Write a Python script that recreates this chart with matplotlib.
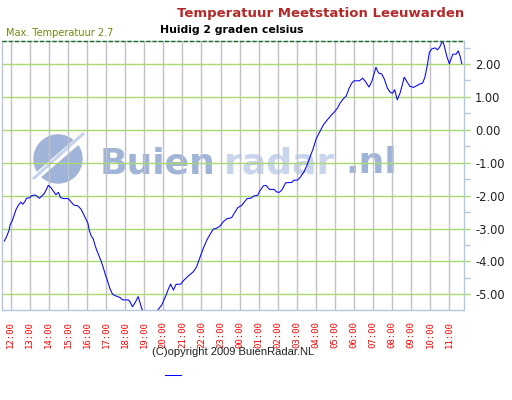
import matplotlib
matplotlib.use("Agg")
import matplotlib.pyplot as plt
from matplotlib.lines import Line2D
from matplotlib.patches import Ellipse
from matplotlib.ticker import MultipleLocator

# temperature Leeuwarden, minutes after 12:00
minutes = [-20, -13, -5, -2, 5, 11, 17, 24, 32, 38, 44, 50, 59, 66, 76, 82, 90, 98,
           106, 113, 118, 126, 134, 142, 150, 157, 166, 181, 190, 199, 211, 221, 228,
           237, 243, 247, 253, 260, 265, 271, 277, 284, 291, 298, 304, 312, 320, 328,
           337, 344, 352, 370, 375, 383, 391, 401, 407, 412, 425, 440, 455, 464, 475,
           482, 491, 496, 503, 512, 520, 535, 543, 559, 575, 585, 596, 606, 617, 627,
           637, 648, 659, 669, 681, 695, 703, 714, 727, 744, 755, 765, 777, 784, 795,
           803, 814, 828, 837, 845, 853, 865, 884, 891, 902, 912, 923, 933, 942, 952,
           961, 973, 983, 994, 1007, 1017, 1028, 1036, 1046, 1055, 1065, 1073, 1080,
           1097, 1107, 1116, 1127, 1136, 1143, 1149, 1157, 1167, 1175, 1185, 1193,
           1201, 1208, 1216, 1225, 1232, 1238, 1246, 1256, 1267, 1277, 1286, 1296,
           1303, 1311, 1317, 1325, 1335, 1343, 1351, 1358, 1363, 1372, 1380, 1391,
           1401, 1408, 1414, 1419]
temps = [-3.38, -3.25, -3.05, -2.89, -2.76, -2.59, -2.42, -2.29, -2.20, -2.26, -2.19,
         -2.08, -2.07, -2.00, -1.98, -2.01, -2.08, -2.01, -1.93, -1.80, -1.69, -1.75,
         -1.86, -1.97, -1.90, -2.06, -2.09, -2.09, -2.19, -2.29, -2.31, -2.41, -2.54,
         -2.72, -2.84, -3.05, -3.22, -3.32, -3.50, -3.67, -3.81, -3.98, -4.18, -4.41,
         -4.57, -4.82, -4.99, -5.04, -5.07, -5.10, -5.17, -5.17, -5.22, -5.38, -5.26,
         -5.07, -5.26, -5.43, -5.65, -5.70, -5.58, -5.46, -5.33, -5.17, -4.97, -4.84,
         -4.69, -4.87, -4.70, -4.69, -4.59, -4.44, -4.31, -4.16, -3.86, -3.60, -3.35,
         -3.18, -3.02, -2.99, -2.92, -2.79, -2.70, -2.67, -2.54, -2.37, -2.29, -2.09,
         -2.08, -2.01, -1.99, -1.85, -1.70, -1.69, -1.81, -1.81, -1.89, -1.90, -1.83,
         -1.61, -1.60, -1.53, -1.53, -1.43, -1.27, -1.05, -0.82, -0.56, -0.27, -0.05,
         0.14, 0.28, 0.43, 0.53, 0.66, 0.81, 0.94, 1.02, 1.27, 1.42, 1.49, 1.49, 1.57,
         1.47, 1.30, 1.47, 1.70, 1.90, 1.73, 1.70, 1.55, 1.27, 1.15, 1.11, 1.22, 0.91,
         1.12, 1.37, 1.60, 1.47, 1.32, 1.29, 1.34, 1.39, 1.42, 1.60, 1.98, 2.36, 2.46,
         2.49, 2.43, 2.54, 2.70, 2.59, 2.23, 2.01, 2.30, 2.30, 2.40, 2.23, 2.01]

hour_labels = ["12:00", "13:00", "14:00", "15:00", "16:00", "17:00", "18:00", "19:00",
               "20:00", "21:00", "22:00", "23:00", "00:00", "01:00", "02:00", "03:00",
               "04:00", "05:00", "06:00", "07:00", "08:00", "09:00", "10:00", "11:00"]
max_temp = 2.7
current = 2

border = "#b4c8dc"
W, H = 512, 400

fig = plt.figure(figsize=(5.12, 4.0), dpi=100)
ax = fig.add_axes([2 / W, 1 - 310 / H, 462 / W, 269 / H])

def px(x, y):
    return x / W, 1 - y / H

# watermark, kept under the grid
logo = Ellipse(px(58, 159), 48 / W, 48 / H, transform=fig.transFigure,
               color="#9fb4d8", zorder=0.1)
ax.add_artist(logo)
ax.add_artist(Line2D([36 / W, 80 / W], [1 - 177 / H, 1 - 139 / H], transform=fig.transFigure,
                     color="white", lw=5, zorder=0.15, solid_capstyle="butt"))
ax.add_artist(Line2D([33 / W, 84 / W], [1 - 179 / H, 1 - 133 / H], transform=fig.transFigure,
                     color="#c6d3ec", lw=2.2, zorder=0.16, solid_capstyle="butt"))
for word, x0, col in [("Buien", 100, "#a0b4d8"), ("radar", 224, "#c8d5ec"), (".nl", 345, "#a0b4d8")]:
    ax.text(*px(x0, 173), word, transform=fig.transFigure, fontsize=26,
            fontweight="bold", color=col, ha="left", va="baseline", zorder=0.2)

ax.plot(minutes, temps, color="#0000ff", lw=0.75, zorder=3)
ax.axhline(max_temp, color="#1e6e1e", lw=1, ls=(0, (3, 1.5)), zorder=4, clip_on=False)

ax.set_xlim(-27.4, 1426)
ax.set_ylim(-5.477, max_temp)

ax.set_xticks(range(0, 24 * 60, 60))
ax.set_xticklabels(hour_labels, rotation=90, family="DejaVu Sans Mono",
                   fontsize=6.5, color="#ff0000", va="top")
ax.tick_params(axis="x", length=0, pad=8)

ax.yaxis.tick_right()
ax.set_yticks(range(-5, 3))
ax.set_yticklabels(["%.2f" % v for v in range(-5, 3)], fontsize=8.3, color="#202020")
ax.yaxis.set_minor_locator(MultipleLocator(0.5))
ax.tick_params(axis="y", which="major", length=4, width=1, color="#a8d870", pad=4)
ax.tick_params(axis="y", which="minor", length=4, width=1, color=border)
ax.tick_params(axis="y", which="both", left=False)

ax.grid(axis="x", color="#c0c0c8", lw=1)
ax.grid(axis="y", which="major", color="#a8d870", lw=1)
ax.xaxis.set_zorder(0.5)
ax.yaxis.set_zorder(0.5)
for s in ax.spines.values():
    s.set_color(border)
    s.set_linewidth(1)

fig.text(*px(321, 13), "Temperatuur Meetstation Leeuwarden", fontsize=9.5,
         fontweight="bold", color="#b22a2a", ha="center", va="center")
fig.text(*px(232, 30), "Huidig %d graden celsius" % current, fontsize=7.8,
         fontweight="bold", color="black", ha="center", va="center")
fig.text(*px(6, 33), "Max. Temperatuur %s" % max_temp, fontsize=7, color="#6b8a10",
         ha="left", va="center")
fig.text(*px(233, 352), "(C)opyright 2009 BuienRadar.NL", family="Liberation Sans",
         fontsize=8, color="#202020", ha="center", va="center")

fig.legend(handles=[Line2D([], [], color="#0000ff", lw=0.75)], labels=[""],
           loc="center", bbox_to_anchor=px(177, 375), frameon=False,
           handlelength=1.6, fontsize=7)

fig.savefig("out.png", dpi=100)
